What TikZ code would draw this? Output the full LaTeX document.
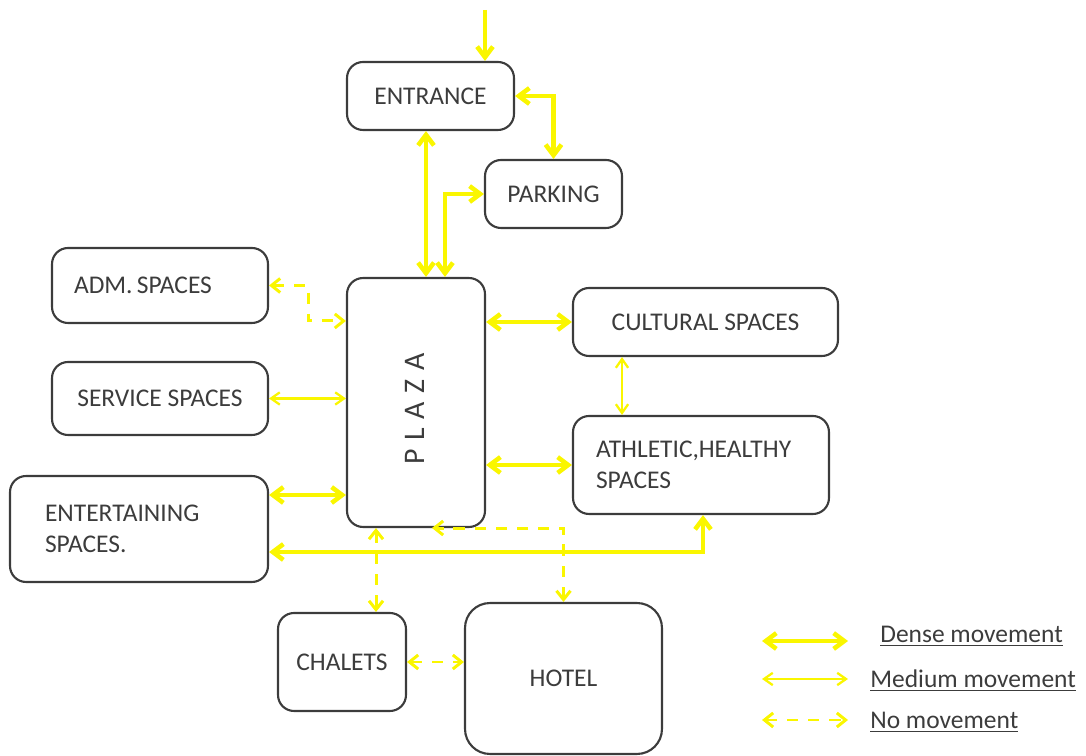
\documentclass[tikz,border=0pt]{standalone}
\usepackage{fontspec}
\setmainfont{Carlito}
\usetikzlibrary{arrows.meta,positioning}
\definecolor{mvyellow}{RGB}{250,246,0}
\definecolor{boxgray}{RGB}{60,60,60}
\tikzstyle{room}=[rectangle,draw=boxgray,line width=1.2pt,rounded corners=0.32cm,text=boxgray,inner sep=0pt,font=\fontsize{14.5}{17.5}\selectfont]
\tikzstyle{dmove}=[{Straight Barb[length=6pt,width=9pt]}-{Straight Barb[length=6pt,width=9pt]},draw=mvyellow,line width=2.6pt]
\tikzstyle{mmove}=[{Straight Barb[length=5pt,width=7pt]}-{Straight Barb[length=5pt,width=7pt]},draw=mvyellow,line width=1.3pt]
\tikzstyle{nmove}=[{Straight Barb[length=5pt,width=8pt]}-{Straight Barb[length=5pt,width=8pt]},draw=mvyellow,line width=1.7pt,dash pattern=on 6.5pt off 5.5pt]

\begin{document}
\begin{tikzpicture}[x=0.02cm,y=-0.02cm]
\useasboundingbox (0,0) rectangle (1086,756);
\node[room,minimum width=3.34cm,minimum height=1.36cm] (ent) at (430.5,96) {ENTRANCE};
\node[room,minimum width=2.74cm,minimum height=1.36cm] (park) at (553.5,194) {PARKING};
\node[room,text width=3.44cm,inner xsep=0.44cm,minimum height=1.5cm,align=left] (adm) at (160,285.5) {ADM.\,SPACES};
\node[room,minimum width=4.32cm,minimum height=1.46cm] (serv) at (160,398.5) {SERVICE SPACES};
\node[room,text width=3.76cm,inner xsep=0.7cm,minimum height=2.12cm,align=left] (fun) at (139,529) {ENTERTAINING\\SPACES.};
\node[room,minimum width=2.76cm,minimum height=4.98cm] (plaza) at (416,402.5) {};
\node[text=boxgray,rotate=90,font=\fontsize{17}{19}\selectfont] (plazat) at (415,409) {P\hspace{5pt}L\hspace{5pt}A\hspace{5pt}Z\hspace{5pt}A};
\node[room,minimum width=5.3cm,minimum height=1.36cm] (cult) at (705.5,322) {CULTURAL SPACES};
\node[room,text width=4.2cm,inner xsep=0.46cm,minimum height=1.96cm,align=left] (ath) at (701,465) {ATHLETIC,HEALTHY\\SPACES};
\node[room,minimum width=2.56cm,minimum height=1.96cm] (chal) at (342,662) {CHALETS};
\node[room,rounded corners=0.5cm,minimum width=3.94cm,minimum height=3.02cm] (hotel) at (563.5,678.5) {HOTEL};
\coordinate (gate) at (485,10);

% connections
\draw[dmove,-{Straight Barb[length=6pt,width=9pt]}] (gate) -- (gate |- ent.north);
\draw[dmove] (ent.east) -| (park.north);
\draw[dmove] ([xshift=-0.09cm]ent.south) -- ([xshift=-0.09cm]ent.south |- plaza.north);
\draw[dmove] ([xshift=0.58cm]plaza.north) |- (park.west);
\draw[nmove] (adm.east) -- ++(39,0) |- ([yshift=-0.88cm]plaza.north west);
\draw[mmove] (serv.east) -- (serv.east -| plaza.west);
\draw[dmove] ([yshift=0.68cm]fun.east) -- ([yshift=0.68cm]fun.east -| plaza.west);
\draw[dmove] (plaza.east |- cult.west) -- (cult.west);
\draw[dmove] (plaza.east |- ath.west) -- (ath.west);
\draw[mmove] ([xshift=-1.67cm]cult.south) -- ([xshift=-1.67cm]cult.south |- ath.north);
\draw[dmove] ([yshift=-0.46cm]fun.east) -| ([xshift=0.04cm]ath.south);
\draw[nmove] ([xshift=-0.8cm]plaza.south) -- ([xshift=-0.8cm]plaza.south |- chal.north);
\draw[nmove] (hotel.north) |- ([xshift=0.32cm]plaza.south);
\draw[nmove] (chal.east) -- (chal.east -| hotel.west);

% legend
\coordinate (d1) at (762,641); \coordinate (d2) at (848,641);
\coordinate (m1) at (762,679); \coordinate (m2) at (848,679);
\coordinate (n1) at (762,720); \coordinate (n2) at (848,720);
\draw[dmove] (d1) -- (d2);
\draw[mmove] (m1) -- (m2);
\draw[nmove] (n1) -- (n2);
\node[anchor=west,inner sep=0pt,text=boxgray,font=\fontsize{14.5}{17}\selectfont] (dlab) at (880,636) {\underline{Dense movement}};
\node[anchor=west,inner sep=0pt,text=boxgray,font=\fontsize{14.5}{17}\selectfont] (mlab) at (870,681) {\underline{Medium movement}};
\node[anchor=west,inner sep=0pt,text=boxgray,font=\fontsize{14.5}{17}\selectfont] (nlab) at (870,722) {\underline{No movement}};
\end{tikzpicture}
\end{document}
